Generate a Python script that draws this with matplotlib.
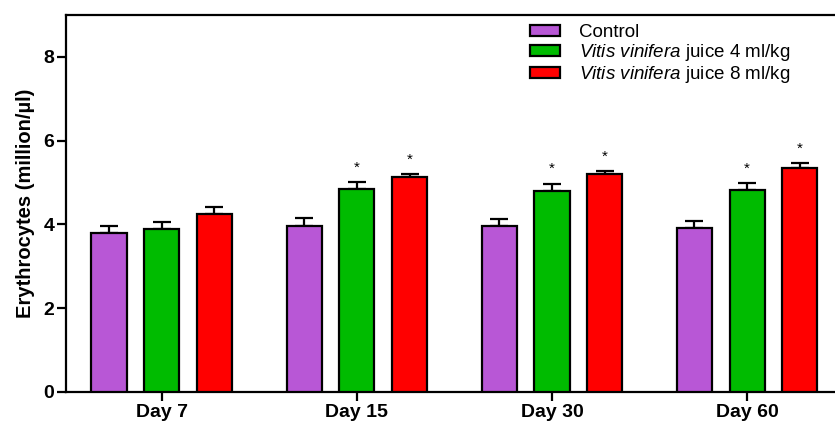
import numpy as np
import matplotlib.pyplot as plt
from matplotlib.patches import Patch

plt.rcParams['font.family'] = ['Liberation Sans', 'DejaVu Sans']
plt.rcParams['mathtext.fontset'] = 'custom'
plt.rcParams['mathtext.rm'] = 'Liberation Sans'
plt.rcParams['mathtext.it'] = 'Liberation Sans:italic'

# Data
days = ['Day 7', 'Day 15', 'Day 30', 'Day 60']
groups = ['Control',
          r'$\it{Vitis\ vinifera}$ juice 4 ml/kg',
          r'$\it{Vitis\ vinifera}$ juice 8 ml/kg']
control = [3.80, 3.97, 3.96, 3.92]
control_err = [0.17, 0.18, 0.17, 0.16]
vv4 = [3.89, 4.84, 4.80, 4.82]
vv4_err = [0.17, 0.17, 0.17, 0.17]
vv8 = [4.25, 5.13, 5.21, 5.34]
vv8_err = [0.17, 0.07, 0.06, 0.12]
# significance marks (per day) for vv4, vv8
sig4 = [False, True, True, True]
sig8 = [False, True, True, True]

colors = ['#B857D6', '#00BB00', '#FF0000']

fig = plt.figure(figsize=(8.35, 4.24), dpi=100)
ax = fig.add_axes([66 / 835, 32 / 424, 1 - 66 / 835, (392 - 15) / 424])

x = np.arange(len(days))
offset = 0.27
width = 0.18

series = [(control, control_err, None), (vv4, vv4_err, sig4), (vv8, vv8_err, sig8)]
for i, (vals, errs, sig) in enumerate(series):
    pos = x + (i - 1) * offset
    ax.bar(pos, vals, width, color=colors[i], edgecolor='black',
           linewidth=1.6, zorder=3)
    ax.errorbar(pos, vals, yerr=[np.zeros(len(vals)), errs], fmt='none',
                ecolor='black', elinewidth=1.6, capsize=6.5, capthick=1.6,
                zorder=2)
    if sig is not None:
        for p, v, e, s in zip(pos, vals, errs, sig):
            if s:
                ax.text(p, v + e + 0.35, '*', ha='center', va='center',
                        fontsize=11)

ax.set_xlim(-0.49, 3.45)
ax.set_ylim(0, 9)
ax.set_yticks([0, 2, 4, 6, 8])
ax.set_xticks(x)
ax.set_xticklabels(days)
for lab in ax.get_xticklabels() + ax.get_yticklabels():
    lab.set_fontweight('bold')
    lab.set_fontsize(14)
ax.tick_params(axis='both', direction='out', width=1.6, length=6.5, pad=2)
ax.set_ylabel('Erythrocytes (million/\u00b5l)', fontsize=14.5,
              fontweight='bold', labelpad=6)

for side in ['left', 'top', 'bottom']:
    ax.spines[side].set_linewidth(1.6)
ax.spines['right'].set_visible(False)

handles = [Patch(facecolor=c, edgecolor='black', linewidth=1.6) for c in colors]
ax.legend(handles, groups, loc='upper left',
          bbox_to_anchor=(530 / 835, 1 - 24 / 424),
          bbox_transform=fig.transFigure, frameon=False, fontsize=13.5,
          handlelength=1.6, handleheight=0.5, handletextpad=1.0,
          labelspacing=0.05, borderpad=0, borderaxespad=0)

fig.savefig('out.png', dpi=100)
